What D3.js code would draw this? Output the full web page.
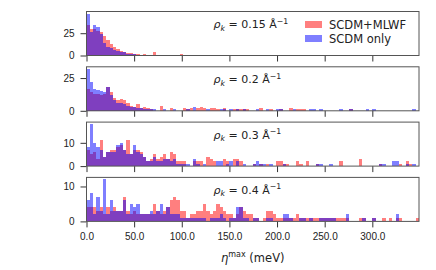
<!DOCTYPE html>
<html lang="en">
<head>
<meta charset="utf-8">
<title>eta max histograms</title>
<style>
  body { margin: 0; background: #fff; }
  svg { font-family: "DejaVu Sans", sans-serif; }
  .tick text { font-size: 10px; fill: #222; }
  .tick line { stroke: #333; }
  .frame { fill: none; stroke: #555; stroke-width: 1; }
</style>
<script src="https://d3js.org/d3.v7.min.js"></script>
</head>
<body>
<svg id="chart" width="436" height="270"></svg>
<script>
// histogram settings (100 equal bins from 0 to etaMax meV)
var etaMax = 349;
var nBins = 100;

// one panel per k-point density
var rhoLabels = ["0.15", "0.2", "0.3", "0.4"];
var seriesNames = ["SCDM+MLWF", "SCDM only"];

// counts per bin, SCDM+MLWF (red)
var mlwf015 = [34,30,30,28,26,22,17,13,10,7, 5,4,3,3,2,2,1,2,1,1, 4,1,1,0,1,1,0,0,2,0,
  1,0,1,0,0,0,1,0,0,1, 0,0,1,0,0,1,0,0,0,0, 0,0,0,0,1,0,1,0,0,0, 0,0,0,0,0,1,0,0,0,0,
  0,0,0,0,0,0,0,0,0,0, 0,0,0,0,0,0,0,0,0,0, 0,0,0,0,0,0,0,0,0,0];
var mlwf02 = [17,14,13,13,12,13,18,14,10,8, 9,8,6,4,3,5,2,3,2,1, 0,0,4,0,0,2,0,0,0,2,
  1,2,0,2,3,2,0,2,2,1, 0,2,0,0,1,1,1,1,1,0, 0,0,2,0,0,1,0,0,1,0, 0,2,0,1,1,1,0,0,0,0,
  0,0,0,0,0,0,0,0,0,1, 0,0,0,0,0,0,0,0,0,0, 0,0,0,0,0,0,0,0,0,0];
var mlwf03 = [7,5,6,3,11,4,6,7,7,8, 9,7,11,5,7,7,6,4,2,3, 5,3,4,5,3,6,5,2,2,2,
  0,0,2,2,2,0,4,3,2,0, 0,3,2,0,3,3,2,0,0,0, 1,0,1,0,1,0,0,2,2,1, 1,0,0,2,1,0,2,0,0,1,
  0,0,0,0,0,0,2,0,0,0, 0,0,3,0,0,0,0,0,1,0, 0,0,0,0,1,0,2,1,0,0];
var mlwf04 = [4,4,4,3,4,2,4,3,4,3, 3,7,3,2,3,2,2,2,2,2, 5,3,2,3,4,6,7,6,3,3,
  1,2,2,3,3,5,3,2,3,5, 4,3,2,2,1,2,4,3,2,2, 1,1,0,1,3,3,2,1,1,1, 1,1,1,2,1,1,1,1,1,1,
  1,1,1,1,1,1,1,1,1,0, 0,0,1,1,0,0,1,0,0,1, 0,1,0,1,1,0,0,0,0,1];

// counts per bin, SCDM only (blue)
var scdm015 = [47,26,34,32,24,14,10,8,6,5, 4,4,2,2,2,1,1,1,0,1, 0,1,0,0,1,0,0,1,0,0,
  0,0,0,1,0,0,0,0,0,0, 1,0,0,0,0,0,0,0,0,0, 0,0,0,0,0,0,0,0,0,0, 0,0,0,0,0,0,0,0,1,0,
  0,0,0,0,0,0,0,0,1,0, 0,0,0,0,0,0,0,0,0,0, 1,0,0,0,0,0,0,0,0,0];
var scdm02 = [32,22,17,16,15,14,18,12,8,6, 6,5,4,3,3,2,2,1,1,1, 1,0,0,1,0,0,1,0,0,0,
  1,0,3,0,0,0,1,0,0,0, 1,1,0,1,0,1,0,1,0,0, 0,1,0,0,1,0,0,1,1,0, 0,0,1,0,0,0,0,1,1,0,
  1,0,0,0,0,0,1,0,0,1, 0,0,0,0,1,0,1,0,0,0, 0,0,0,0,0,0,0,0,1,0];
var scdm03 = [8,18,10,8,7,4,6,6,6,9, 10,7,5,5,9,6,5,4,2,2, 4,2,2,3,3,2,3,1,1,1,
  1,0,3,1,0,1,0,0,0,2, 2,0,1,2,0,2,0,1,0,0, 1,2,1,1,0,1,0,0,0,1, 0,0,0,0,0,0,0,0,0,1,
  1,0,0,1,0,0,0,0,0,0, 0,0,0,0,0,0,0,0,1,1, 0,0,2,2,0,0,1,0,1,0];
var scdm04 = [6,8,2,7,3,12,2,6,3,3, 3,6,2,5,4,5,2,2,2,3, 2,3,5,2,4,2,2,2,1,1,
  1,1,1,1,1,1,0,1,1,1, 2,1,0,1,1,4,4,1,1,0, 1,1,0,0,1,1,0,0,0,2, 2,1,0,0,1,1,0,1,0,0,
  1,1,1,1,1,0,0,0,2,0, 0,0,0,1,0,0,1,0,0,0, 0,0,0,2,0,0,0,0,0,0];

var mlwfCounts = [mlwf015, mlwf02, mlwf03, mlwf04];
var scdmCounts = [scdm015, scdm02, scdm03, scdm04];
var yTickValues = [[0, 25], [0, 25], [0, 10], [0, 10]];
var xTickValues = [0, 50, 100, 150, 200, 250, 300];

// layout
var left = 86.5, right = 419, top0 = 11.5;
var panelH = 44, step = 55.3;
var width = right - left;
var binW = etaMax / nBins;
var colors = ["#ff0000", "#0000ff"];

var svg = d3.select("#chart");
var x = d3.scaleLinear().domain([0, etaMax]).range([0, width]);

rhoLabels.forEach(function(rho, p) {
  var g = svg.append("g")
      .attr("transform", "translate(" + left + "," + (top0 + p * step) + ")");

  var both = [mlwfCounts[p], scdmCounts[p]];
  var yMax = d3.max(both, function(s) { return d3.max(s); }) * 1.05;
  var y = d3.scaleLinear().domain([0, yMax]).range([panelH, 0]);

  // red first, then blue over it
  both.forEach(function(counts, s) {
    g.append("g").selectAll("rect")
      .data(counts)
      .enter().append("rect")
        .attr("x", function(d, i) { return x(i * binW); })
        .attr("width", function(d, i) { return x((i + 1) * binW) - x(i * binW); })
        .attr("y", function(d) { return y(d); })
        .attr("height", function(d) { return panelH - y(d); })
        .attr("fill", colors[s])
        .attr("fill-opacity", 0.5)
        .attr("shape-rendering", "crispEdges");
  });

  var xAxis = d3.axisBottom(x).tickValues(xTickValues).tickSize(6).tickPadding(6)
      .tickFormat(p === rhoLabels.length - 1 ? d3.format(".1f") : "");
  g.append("g")
      .attr("transform", "translate(0," + panelH + ")")
      .call(xAxis)
      .call(function(a) { a.select(".domain").remove(); });

  var yAxis = d3.axisLeft(y).tickValues(yTickValues[p]).tickSize(6).tickPadding(6);
  g.append("g")
      .call(yAxis)
      .call(function(a) { a.select(".domain").remove(); });

  g.append("rect")
      .attr("class", "frame")
      .attr("width", width)
      .attr("height", panelH);

  // rho_k annotation
  var t = g.append("text")
      .attr("x", 127)
      .attr("y", 16.5)
      .style("font-size", "11px")
      .attr("fill", "#222");
  t.append("tspan").style("font-style", "italic").text("\u03c1");
  t.append("tspan").style("font-style", "italic").style("font-size", "7.8px")
      .attr("dy", 2.5).text("k");
  t.append("tspan").attr("dy", -2.5).text(" = " + rho + " \u00c5");
  t.append("tspan").style("font-size", "7.8px").attr("dy", -4.5).text("\u22121");
});

// legend in the first panel
var legend = svg.append("g").attr("transform", "translate(305," + 21 + ")");
seriesNames.forEach(function(name, i) {
  legend.append("rect")
      .attr("x", 0)
      .attr("y", i * 14)
      .attr("width", 17)
      .attr("height", 7)
      .attr("fill", colors[i])
      .attr("fill-opacity", 0.5);
  legend.append("text")
      .attr("x", 24)
      .attr("y", i * 14 + 7.5)
      .style("font-size", "11.5px")
      .attr("fill", "#222")
      .text(name);
});

// x axis label
var xl = svg.append("text")
    .attr("x", left + width / 2)
    .attr("y", 262)
    .attr("text-anchor", "middle")
    .style("font-size", "11.5px")
    .attr("fill", "#222");
xl.append("tspan").style("font-style", "italic").text("\u03b7");
xl.append("tspan").style("font-size", "8px").attr("dy", -5).text("max");
xl.append("tspan").attr("dy", 5).text(" (meV)");
</script>
</body>
</html>
